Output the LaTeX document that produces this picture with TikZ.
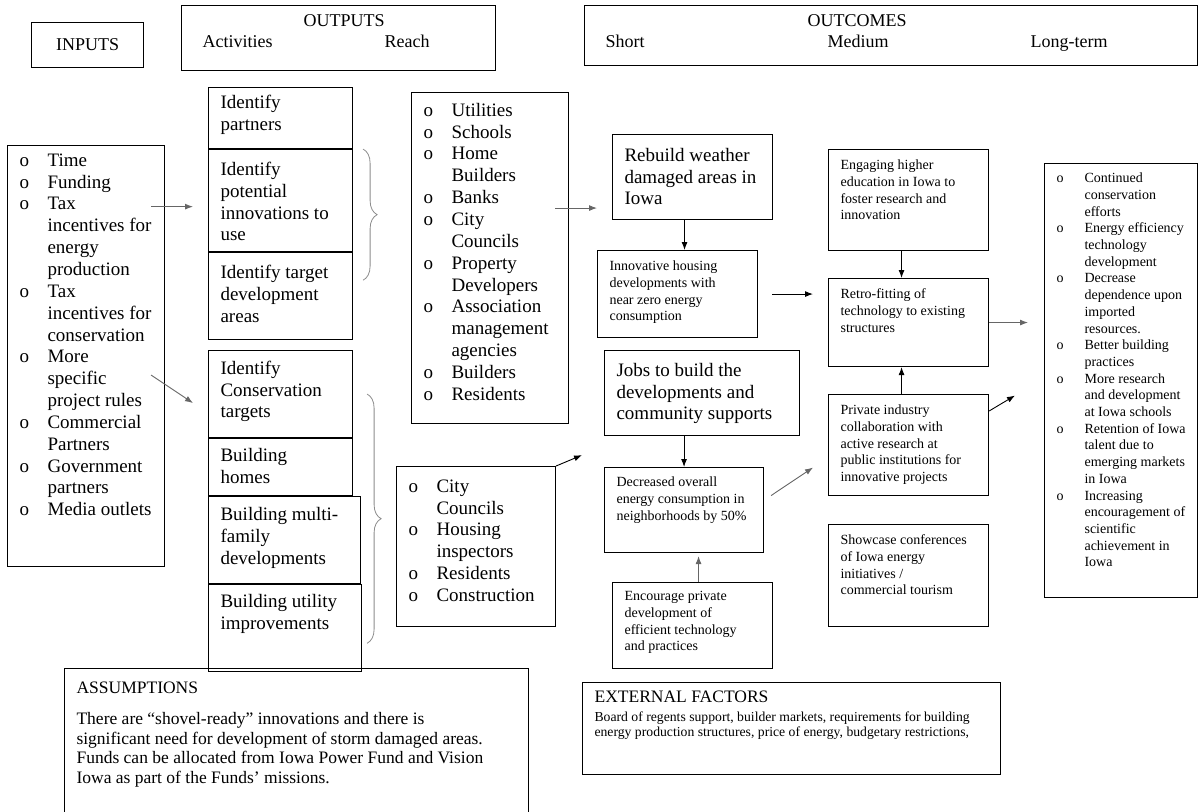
\documentclass[tikz,border=0pt]{standalone}
\usepackage{fontspec}
\setmainfont{Liberation Serif}
\usetikzlibrary{arrows.meta,calc,decorations.pathreplacing}

\newcommand{\fbig}{\fontsize{19}{21.85}\selectfont}
\newcommand{\fsmall}{\fontsize{14}{16.7}\selectfont}
\newcommand{\fhead}{\fontsize{18}{21}\selectfont}
\newcommand{\fnote}{\fontsize{17.5}{19.6}\selectfont}
\newcommand{\fext}{\fontsize{13.7}{15.5}\selectfont}
\newcommand{\itm}{\makebox[28pt][l]{o}}
\newcommand{\cont}{\hspace*{28pt}}
% box text: width, height, top gap, lines
\newcommand{\tb}[4]{\hspace*{12pt}\parbox[c][#2pt][t]{\dimexpr#1pt-12pt\relax}{\raggedright\vspace*{#3pt}\strut#4}}

\begin{document}
\begin{tikzpicture}[x=1pt, y=-1pt,
  box/.style={draw, line width=1.1pt, anchor=north west, inner sep=0pt, font=\fbig},
  sbox/.style={box, font=\fsmall},
  arr/.style={-{Latex[length=8pt,width=6pt]}, line width=0.9pt},
  garr/.style={arr, color=black!60},
  brc/.style={decorate, decoration={brace, amplitude=14pt}, draw=black!45, line width=0.8pt}]
\useasboundingbox (0,0) rectangle (1199,811);

% headers
\node[box, font=\fhead, minimum width=112pt, minimum height=45pt] (inhead) at (31,22) {INPUTS};
\node[box, font=\fhead] (outhead) at (181,5) {\parbox[c][65pt][t]{314pt}{\vspace*{6pt}\strut\hspace*{122pt}OUTPUTS\\
  \strut\hspace*{21pt}Activities\hspace*{112pt}Reach}};
\node[box, font=\fhead] (ochead) at (584,5) {\parbox[c][60pt][t]{613pt}{\vspace*{6pt}\strut\hspace*{223pt}OUTCOMES\\
  \strut\rlap{\hspace*{21pt}Short}\rlap{\hspace*{243pt}Medium}\hspace*{446pt}Long-term}};

% inputs
\node[box] (inputs) at (7,145) {\tb{157}{421}{5.4}{\itm Time\\ \itm Funding\\ \itm Tax\\ \cont incentives for\\
  \cont energy\\ \cont production\\ \itm Tax\\ \cont incentives for\\ \cont conservation\\ \itm More\\
  \cont specific\\ \cont project rules\\ \itm Commercial\\ \cont Partners\\ \itm Government\\
  \cont partners\\ \itm Media outlets}};

% activities
\node[box] (partners) at (208,87) {\tb{144}{61}{5.4}{Identify\\ partners}};
\node[box] (potential) at (partners.south west) {\tb{144}{102}{10.4}{Identify\\ potential\\ innovations to\\ use}};
\node[box] (target) at (potential.south west) {\tb{144}{87}{10.4}{Identify target\\ development\\ areas}};
\node[box] (conservation) at (208,350) {\tb{144}{87}{8.4}{Identify\\ Conservation\\ targets}};
\node[box] (homes) at (conservation.south west) {\tb{144}{57}{7.4}{Building\\ homes}};
\node[box] (multi) at (homes.south west) {\tb{152}{87}{8.4}{Building multi-\\ family\\ developments}};
\node[box] (utility) at (multi.south west) {\tb{153}{87}{7.4}{Building utility\\ improvements}};

% reach
\node[box] (reach1) at (411,92) {\tb{157}{331}{8.4}{\itm Utilities\\ \itm Schools\\ \itm Home\\ \cont Builders\\
  \itm Banks\\ \itm City\\ \cont Councils\\ \itm Property\\ \cont Developers\\ \itm Association\\
  \cont management\\ \cont agencies\\ \itm Builders\\ \itm Residents}};
\node[box] (reach2) at (396,466) {\tb{159}{160}{10.4}{\itm City\\ \cont Councils\\ \itm Housing\\
  \cont inspectors\\ \itm Residents\\ \itm Construction}};

% short-term outcomes
\node[box] (rebuild) at (612,134) {\tb{160}{85}{11.4}{Rebuild weather\\ damaged areas in\\ Iowa}};
\node[sbox] (innovative) at (597,250) {\tb{160}{87}{8.5}{Innovative housing\\ developments with\\ near zero energy\\ consumption}};
\node[box] (jobs) at (604,350) {\tb{195}{85}{10.4}{Jobs to build the\\ developments and\\ community supports}};
\node[sbox] (decreased) at (604,467) {\tb{159}{85}{7.5}{Decreased overall\\ energy consumption in\\ neighborhoods by 50\%}};
\node[sbox] (encourage) at (612,582) {\tb{160}{86}{6.5}{Encourage private\\ development of\\ efficient technology\\ and practices}};

% medium-term outcomes
\node[sbox] (engaging) at (828,149) {\tb{160}{101}{8.5}{Engaging higher\\ education in Iowa to\\ foster research and\\ innovation}};
\node[sbox] (retro) at (828,278) {\tb{160}{88}{8.5}{Retro-fitting of\\ technology to existing\\ structures}};
\node[sbox] (private) at (828,394) {\tb{160}{101}{8.5}{Private industry\\ collaboration with\\ active research at\\
  public institutions for\\ innovative projects}};
\node[sbox] (showcase) at (828,524) {\tb{160}{102}{8.5}{Showcase conferences\\ of Iowa energy\\ initiatives /\\ commercial tourism}};

% long-term outcomes
\node[sbox] (longterm) at (1044,163) {\tb{153}{434}{7.5}{\itm Continued\\ \cont conservation\\ \cont efforts\\
  \itm Energy efficiency\\ \cont technology\\ \cont development\\ \itm Decrease\\ \cont dependence upon\\
  \cont imported\\ \cont resources.\\ \itm Better building\\ \cont practices\\ \itm More research\\
  \cont and development\\ \cont at Iowa schools\\ \itm Retention of Iowa\\ \cont talent due to\\
  \cont emerging markets\\ \cont in Iowa\\ \itm Increasing\\ \cont encouragement of\\ \cont scientific\\
  \cont achievement in\\ \cont Iowa}};

% assumptions and external factors
\node[box, font=\fnote] (assume) at (64,668) {\tb{464}{160}{11.3}{ASSUMPTIONS\\[11.4pt]
  There are “shovel-ready” innovations and there is\\ significant need for development of storm damaged areas.\\
  Funds can be allocated from Iowa Power Fund and Vision\\ Iowa as part of the Funds’ missions.}};
\node[box, font=\fnote] (external) at (582,682) {\tb{418}{92}{6.5}{EXTERNAL FACTORS\\[2pt]
  \fext Board of regents support, builder markets, requirements for building\\
  energy production structures, price of energy, budgetary restrictions,}};

% braces
\draw[brc] ($(partners.south east)+(10,0)$) -- ($(target.north east)+(10,28)$);
\draw[brc] ($(conservation.east)+(14,0)$) -- ($(utility.north east)+(5,59)$);

% arrows
\draw[garr] ($(inputs.east |- potential.west)+(-14,6)$) -- ($(potential.west)+(-15,6)$);
\draw[garr] ($(inputs.east)+(-14,19)$) -- ($(conservation.west)+(-15,9)$);
\draw[garr] ($(reach1.east)+(-14,-50)$) -- ($(rebuild.west)+(-15,31)$);
\draw[arr] (reach2.north east) -- ($(jobs.south west)+(-22,19)$);
\draw[arr] ($(rebuild.south)+(-8,0)$) -- ($(innovative.north)+(7,0)$);
\draw[arr] ($(jobs.south)+(-18,0)$) -- (decreased.north);
\draw[garr] ($(encourage.north)+(6,0)$) -- ($(decreased.south)+(14.5,3)$);
\draw[arr] ($(innovative.east)+(14,0)$) -- ($(retro.west)+(-15,-28.5)$);
\draw[garr] ($(decreased.east)+(7,-14.5)$) -- ($(private.west)+(-15,22.5)$);
\draw[arr] ($(engaging.south)+(-7,0)$) -- ($(retro.north)+(-7,0)$);
\draw[arr] ($(private.north)+(-7,0)$) -- ($(retro.south)+(-7,0)$);
\draw[garr] (retro.east) -- ($(longterm.west |- retro.east)+(-16,0)$);
\draw[arr] ($(private.north east)+(0,17)$) -- ($(longterm.west)+(-29,15)$);
\end{tikzpicture}
\end{document}
